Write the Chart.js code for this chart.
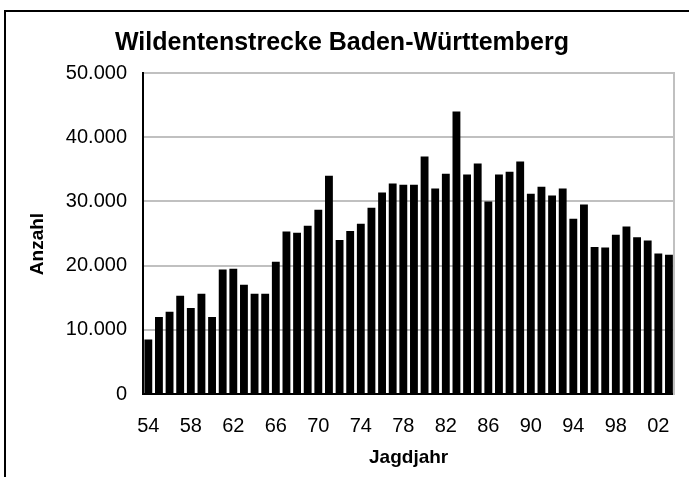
<!DOCTYPE html>
<html>
<head>
<meta charset="utf-8">
<script src="https://cdn.jsdelivr.net/npm/chart.js@4.4.1/dist/chart.umd.min.js"></script>
<style>
  html, body { margin: 0; padding: 0; background: #fff; overflow: hidden; }
  #wrap { position: relative; width: 689px; height: 477px; }
  #frame {
    position: absolute; left: 4px; top: 10px; width: 720px; height: 520px;
    border: 2px solid #000; box-sizing: border-box;
  }
  canvas { position: absolute; left: 0; top: 0; }
</style>
</head>
<body>
<div id="wrap">
  <div id="frame"></div>
  <canvas id="ducks" width="689" height="477"></canvas>
</div>
<script>
// Jagdjahre 1954 - 2003 (two-digit labels as in the original)
const years = [
  '54', '55', '56', '57', '58', '59', '60', '61', '62', '63',
  '64', '65', '66', '67', '68', '69', '70', '71', '72', '73',
  '74', '75', '76', '77', '78', '79', '80', '81', '82', '83',
  '84', '85', '86', '87', '88', '89', '90', '91', '92', '93',
  '94', '95', '96', '97', '98', '99', '00', '01', '02', '03',
]
// Wildentenstrecke (Anzahl)
const bag = [
  8500, 12000, 12800, 15300, 13400, 15600, 12000, 19400, 19500, 17000,
  15600, 15600, 20600, 25300, 25100, 26200, 28700, 34000, 24000, 25400,
  26500, 29000, 31400, 32800, 32600, 32600, 37000, 32000, 34300, 44000,
  34200, 35900, 30000, 34200, 34600, 36200, 31200, 32300, 30900, 32000,
  27300, 29500, 22900, 22800, 24800, 26100, 24400, 23900, 21900, 21700,
]
const yTicks = [0, 10000, 20000, 30000, 40000, 50000]

const FONT = "'Liberation Sans', Arial, sans-serif"
const GRID = '#c0c0c0'

// 50000 -> "50.000"
const fmt = v => String(v).replace(/\B(?=(\d{3})+(?!\d))/g, '.')

const ctxDucks = document.getElementById('ducks').getContext('2d')

const dataDucks = {
  labels: years,
  datasets: [
    {
      data: bag,
      backgroundColor: '#000',
      borderWidth: 0,
      barPercentage: 0.74,
      categoryPercentage: 1,
    },
  ],
}

const configDucks = {
  type: 'bar',
  data: dataDucks,
  options: {
    responsive: false,
    animation: false,
    layout: { padding: { left: 0, right: 5, top: 0, bottom: 0 } },
    plugins: {
      legend: { display: false },
      tooltip: { enabled: false },
      title: {
        display: true,
        text: 'Wildentenstrecke Baden-Württemberg',
        color: '#000',
        font: { family: FONT, size: 25, weight: 'bold' },
        padding: { top: 28, bottom: 15 },
      },
    },
    scales: {
      x: {
        grid: { display: false, drawTicks: false },
        border: { color: '#000', width: 2 },
        afterFit: scale => {
          scale.height = 83
        },
        ticks: {
          autoSkip: false,
          maxRotation: 0,
          padding: 20,
          color: '#000',
          font: { family: FONT, size: 20 },
          callback: (value, index) => (index % 4 === 0 ? years[index] : ''),
        },
        title: {
          display: true,
          text: 'Jagdjahr',
          color: '#000',
          font: { family: FONT, size: 19, weight: 'bold' },
          padding: { top: 0, bottom: 8 },
        },
      },
      y: {
        min: 0,
        max: 50000,
        afterFit: scale => {
          scale.width = 143
        },
        afterBuildTicks: scale => {
          scale.ticks = yTicks.map(v => ({ value: v }))
        },
        grid: { color: GRID, lineWidth: 2, drawTicks: false },
        border: { color: '#000', width: 2 },
        ticks: {
          padding: 16,
          color: '#000',
          font: { family: FONT, size: 20 },
          callback: value => fmt(value),
        },
        title: {
          display: true,
          // trailing blanks push the word a little lower, as in the original
          text: 'Anzahl    ',
          color: '#000',
          font: { family: FONT, size: 19, weight: 'bold' },
          padding: { top: 26, bottom: 0 },
        },
      },
      // right edge of the plot area (grey frame line)
      yRight: {
        position: 'right',
        min: 0,
        max: 50000,
        afterFit: scale => {
          scale.width = 0
        },
        grid: { display: false, drawTicks: false },
        border: { color: GRID, width: 2 },
        ticks: { display: false },
      },
    },
  },
}
const ducksChart = new Chart(ctxDucks, configDucks)
</script>
</body>
</html>
